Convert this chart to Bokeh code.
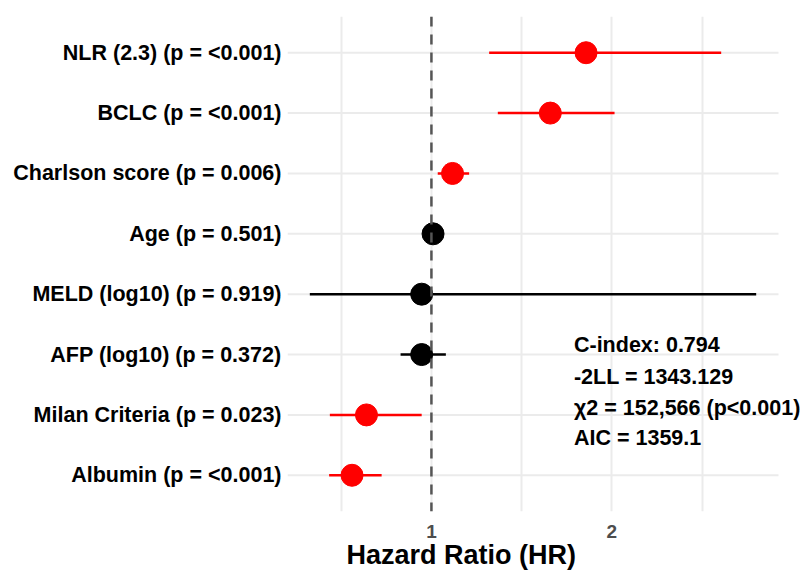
from bokeh.plotting import figure
from bokeh.models import (ColumnDataSource, Range1d, FixedTicker, Span, Label, Title)
from bokeh.embed import file_html
from bokeh.resources import INLINE

# ---- data ----
labels = ["NLR (2.3) (p = <0.001)", "BCLC (p = <0.001)", "Charlson score (p = 0.006)",
          "Age (p = 0.501)", "MELD (log10) (p = 0.919)", "AFP (log10) (p = 0.372)",
          "Milan Criteria (p = 0.023)", "Albumin (p = <0.001)"]
hr = [1.857, 1.659, 1.117, 1.009, 0.946, 0.946, 0.640, 0.560]
lower = [1.320, 1.368, 1.035, 0.985, 0.326, 0.829, 0.437, 0.433]
upper = [2.606, 2.015, 1.209, 1.035, 2.800, 1.080, 0.946, 0.724]
pvals = [0.0005, 0.0005, 0.006, 0.501, 0.919, 0.372, 0.023, 0.0005]
stats_text = ["C-index: 0.794", "-2LL = 1343.129", "\u03c72 = 152,566 (p<0.001)", "AIC = 1359.1"]
stats_y = [3.15, 2.63, 2.12, 1.62]
stats_x = 1.79
x_ticks = [1, 2]
x_grid = [0.5, 1, 1.5, 2, 2.5]

n = len(labels)
ypos = [n - i for i in range(n)]
colors = ["#FF0000" if p < 0.05 else "#000000" for p in pvals]

lo_all, hi_all = min(lower), max(upper)
pad = 0.05 * (hi_all - lo_all)
x_start, x_panel_end = lo_all - pad, hi_all + pad

W, H = 802, 571
left_border = 287
panel_w = 491  # width of the visible panel (gridlines)
frame_w = W - left_border
x_end = x_start + (x_panel_end - x_start) * frame_w / panel_w

src = ColumnDataSource(dict(y=ypos, hr=hr, lo=lower, hi=upper, color=colors,
                            g0=[x_start] * n, g1=[x_panel_end] * n))

p = figure(width=W, height=H, output_backend="svg", toolbar_location=None,
           x_range=Range1d(x_start, x_end),
           y_range=Range1d(0.4, n + 0.6),
           min_border_left=left_border, min_border_right=0, min_border_top=16,
           min_border_bottom=60)
p.outline_line_color = None
p.background_fill_color = "white"

# grid
p.xgrid.ticker = FixedTicker(ticks=x_grid)
p.xgrid.grid_line_color = "#EBEBEB"
p.xgrid.grid_line_width = 2
p.ygrid.grid_line_color = None
p.segment(x0="g0", x1="g1", y0="y", y1="y", line_color="#EBEBEB", line_width=2, source=src)

# error bars and points
p.segment(x0="lo", x1="hi", y0="y", y1="y", line_color="color", line_width=2.5, source=src)
p.scatter(x="hr", y="y", size=22, fill_color="color", line_color="color", source=src)

# reference line
p.add_layout(Span(location=1, dimension="height", line_dash="10 8", line_width=2.5,
                  line_color="#555555"))

# stats text
for t, yy in zip(stats_text, stats_y):
    p.add_layout(Label(x=stats_x, y=yy, text=t, text_font="Liberation Sans",
                       text_font_style="bold", text_font_size="21.5px",
                       text_baseline="middle", text_align="left", text_color="black"))

# axes
p.yaxis.ticker = FixedTicker(ticks=ypos)
p.yaxis.major_label_overrides = {y: l for y, l in zip(ypos, labels)}
p.yaxis.major_label_text_font = "Liberation Sans"
p.yaxis.major_label_text_font_style = "bold"
p.yaxis.major_label_text_font_size = "21.5px"
p.yaxis.major_label_text_color = "black"
p.yaxis.axis_line_color = None
p.yaxis.major_tick_line_color = None
p.yaxis.minor_tick_line_color = None
p.yaxis.major_tick_out = 0
p.yaxis.major_tick_in = 0
p.yaxis.major_label_standoff = 6

p.xaxis.ticker = FixedTicker(ticks=x_ticks)
p.xaxis.major_label_text_font = "Liberation Sans"
p.xaxis.major_label_text_font_style = "bold"
p.xaxis.major_label_text_font_size = "19px"
p.xaxis.major_label_text_color = "#4D4D4D"
p.xaxis.axis_line_color = None
p.xaxis.major_tick_line_color = None
p.xaxis.minor_tick_line_color = None
p.xaxis.major_tick_out = 0
p.xaxis.major_tick_in = 0
p.xaxis.major_label_standoff = 13

p.add_layout(Title(text="Hazard Ratio (HR)", align="left", offset=59, standoff=-5,
                   text_font="Liberation Sans", text_font_style="bold",
                   text_font_size="27px", text_color="black"), "below")

open("out.html", "w").write(file_html(p, INLINE))
